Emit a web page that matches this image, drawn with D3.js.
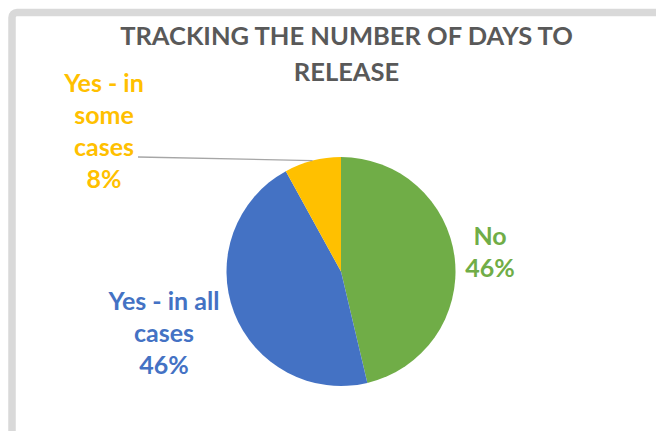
<!DOCTYPE html>
<html>
<head>
<meta charset="utf-8">
<script src="https://cdn.jsdelivr.net/npm/d3@7"></script>
<style>
  html, body { margin: 0; padding: 0; background: #ffffff; }
  svg { display: block; }
</style>
</head>
<body>
<svg id="chart" width="656" height="431"></svg>
<script>
// ---- Data ----
const categories = ["No", "Yes - in all cases", "Yes - in some cases"];
const values = [46.3, 45.7, 8.0];
const colors = ["#70ad47", "#4472c4", "#ffc000"];
const titleLines = ["TRACKING THE NUMBER OF DAYS TO", "RELEASE"];
const labelLines = [["No"], ["Yes - in all", "cases"], ["Yes - in", "some", "cases"]];

// ---- Layout ----
const W = 656, H = 431;
const cx = 341, cy = 271.5, R = 114.5;
const labelPos = [ {x: 490, y: 245}, {x: 164, y: 310}, {x: 104, y: 91.5} ];
const lineGap = 32;
const fontFam = "Lato, 'Open Sans', 'Liberation Sans', sans-serif";

const svg = d3.select("#chart");

// frame (gray rounded border)
svg.append("rect")
  .attr("x", 12).attr("y", 12.5)
  .attr("width", W + 20).attr("height", H + 20)
  .attr("rx", 5).attr("ry", 5)
  .attr("fill", "#ffffff")
  .attr("stroke", "#d9d9d9")
  .attr("stroke-width", 7.5);

// title
svg.append("g").selectAll("text")
  .data(titleLines)
  .join("text")
  .attr("x", 346.5)
  .attr("y", (d, i) => 44.5 + i * 36.7)
  .attr("text-anchor", "middle")
  .attr("font-family", fontFam)
  .attr("font-weight", 700)
  .attr("font-size", 25.5)
  .attr("fill", "#595959")
  .text(d => d);

// pie
const total = d3.sum(values);
const pie = d3.pie().sort(null).value(d => d);
const arcs = pie(values);
const arc = d3.arc().innerRadius(0).outerRadius(R);
const g = svg.append("g").attr("transform", `translate(${cx},${cy})`);

g.selectAll("path")
  .data(arcs)
  .join("path")
  .attr("d", arc)
  .attr("fill", (d, i) => colors[i]);

// leader line for small slice
const edgeArc = d3.arc().innerRadius(R).outerRadius(R);
const pt = edgeArc.centroid(arcs[2]);
svg.append("line")
  .attr("x1", 138).attr("y1", 157)
  .attr("x2", cx + pt[0]).attr("y2", cy + pt[1])
  .attr("stroke", "#a6a6a6")
  .attr("stroke-width", 1.3);

// labels
const pctFmt = v => Math.round(v / total * 100) + "%";
categories.forEach((c, i) => {
  const lines = labelLines[i].concat([pctFmt(values[i])]);
  svg.append("g").selectAll("text")
    .data(lines)
    .join("text")
    .attr("x", labelPos[i].x)
    .attr("y", (d, j) => labelPos[i].y + j * lineGap)
    .attr("text-anchor", "middle")
    .attr("font-family", fontFam)
    .attr("font-weight", 700)
    .attr("font-size", 25)
    .attr("fill", colors[i])
    .text(d => d);
});
</script>
</body>
</html>
